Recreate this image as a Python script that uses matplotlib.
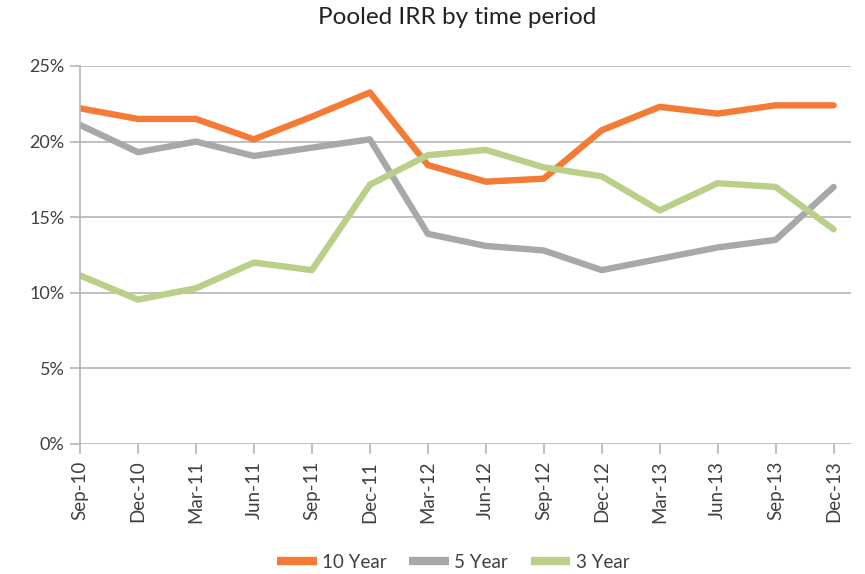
import matplotlib
matplotlib.use("Agg")
from matplotlib import pyplot as plt
from matplotlib.ticker import FuncFormatter

periods = ["Sep-10", "Dec-10", "Mar-11", "Jun-11", "Sep-11", "Dec-11", "Mar-12",
           "Jun-12", "Sep-12", "Dec-12", "Mar-13", "Jun-13", "Sep-13", "Dec-13"]

# pooled IRR in %
ten_year = [22.2, 21.5, 21.5, 20.15, 21.65, 23.25, 18.45, 17.35, 17.55, 20.75, 22.3, 21.85, 22.4, 22.4]
five_year = [21.1, 19.3, 20.0, 19.05, 19.6, 20.15, 13.9, 13.1, 12.8, 11.5, 12.25, 13.0, 13.5, 17.0]
three_year = [11.15, 9.55, 10.3, 12.0, 11.5, 17.15, 19.1, 19.45, 18.3, 17.7, 15.45, 17.25, 17.0, 14.2]

plt.rcParams['font.family'] = ['Lato', 'DejaVu Sans']

fig = plt.figure(figsize=(8.65, 5.74), dpi=100)
ax = fig.add_axes([80 / 865, 1 - 444 / 574, (851 - 80) / 865, (444 - 66) / 574])

x = list(range(len(periods)))
ax.plot(x, ten_year, color="#F47B35", lw=4.6, solid_capstyle="round", label="10 Year")
ax.plot(x, five_year, color="#A7A8AB", lw=4.6, solid_capstyle="round", label="5 Year")
ax.plot(x, three_year, color="#B8D087", lw=4.6, solid_capstyle="round", label="3 Year")

ax.set_xlim(0, 13.3)
ax.set_ylim(0, 25)
ax.set_yticks([0, 5, 10, 15, 20, 25])
ax.yaxis.set_major_formatter(FuncFormatter(lambda v, p: "%d%%" % v))
ax.set_xticks(x)
ax.set_xticklabels(periods, rotation=90)

ax.grid(axis="y", color="#B5B5B5", lw=1.2)
ax.set_axisbelow(True)
for s in ["top", "right", "bottom"]:
    ax.spines[s].set_visible(False)
ax.spines["left"].set_color("#B5B5B5")
ax.spines["left"].set_linewidth(1.2)
ax.tick_params(axis="y", length=7, width=1.2, color="#B5B5B5", labelsize=13,
               labelcolor="#404040", pad=4)
ax.tick_params(axis="x", length=7, width=1.2, color="#B5B5B5", labelsize=13.5,
               labelcolor="#404040", pad=5)

fig.text(457 / 865, 1 - 18 / 574, "Pooled IRR by time period", fontsize=17.5,
         color="#222222", ha="center", va="center")

leg = fig.legend(loc="center", bbox_to_anchor=(0.524, 1 - 562 / 574), ncol=3, frameon=False,
                 fontsize=13.5, handlelength=2.1, handletextpad=0.3, columnspacing=1.2)
for t in leg.get_texts():
    t.set_color("#404040")
for h in leg.get_lines():
    h.set_linewidth(6)
    h.set_solid_capstyle("butt")

fig.savefig("out.png", dpi=100)
